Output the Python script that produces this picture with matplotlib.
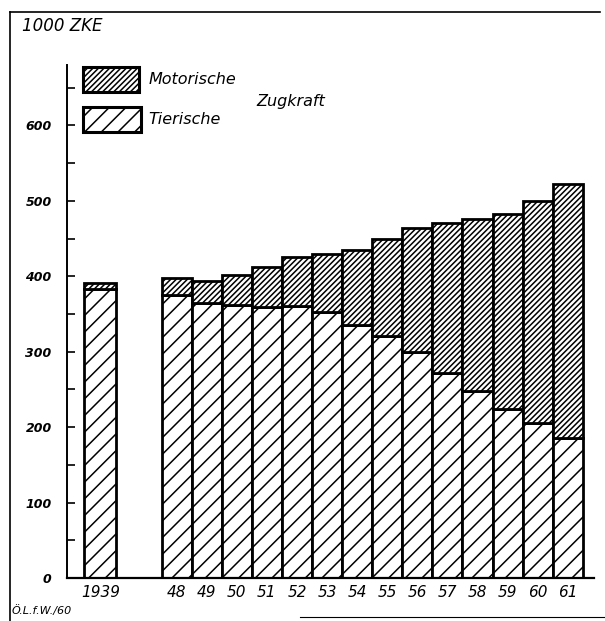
import matplotlib.pyplot as plt
from matplotlib.patches import Rectangle
from matplotlib.lines import Line2D

# Data (1000 ZKE)
jahre = ["1939", "48", "49", "50", "51", "52", "53", "54", "55", "56", "57", "58", "59", "60", "61"]
tierische = [383, 375, 365, 362, 359, 361, 353, 335, 321, 300, 272, 248, 224, 205, 185]
motorische = [8, 22, 29, 39, 53, 64, 77, 100, 129, 164, 199, 228, 259, 295, 337]

plt.rcParams["font.family"] = "DejaVu Sans"
plt.rcParams["font.style"] = "italic"
plt.rcParams["hatch.color"] = "black"
plt.rcParams["hatch.linewidth"] = 1.1

W, H = 605, 621
fig = plt.figure(figsize=(W / 100, H / 100), dpi=100)
# axes placed in pixel terms: spine at x=67, baseline at y=578, top at y=65
ax = fig.add_axes([67 / W, (H - 578) / H, (594 - 67) / W, (578 - 65) / H])

# 1939 on its own, then 1948-61 side by side
pos = [0] + [2.53 + i for i in range(len(jahre) - 1)]
breite = [1.06] + [1.0] * (len(jahre) - 1)

hatch_tier = "//"
hatch_motor = "//////"

ax.bar(pos, tierische, width=breite, color="white", edgecolor="black",
       hatch=hatch_tier, linewidth=2.0)
ax.bar(pos, motorische, bottom=tierische, width=breite, color="white",
       edgecolor="black", hatch=hatch_motor, linewidth=2.0)

ax.set_xlim(-1.11, 16.4)
ax.set_ylim(0, 680)

for s in ["top", "right"]:
    ax.spines[s].set_visible(False)
ax.spines["left"].set_linewidth(1.4)
ax.spines["bottom"].set_linewidth(1.6)

ax.set_yticks(range(0, 700, 100))
ax.set_yticks(range(50, 700, 100), minor=True)
ax.tick_params(axis="y", which="both", direction="in", length=6, width=1.2,
               labelsize=9, pad=11)
for lbl in ax.get_yticklabels():
    lbl.set_fontweight("bold")

ax.set_xticks(pos, jahre)
ax.tick_params(axis="x", length=0, labelsize=11, pad=5)

# legend boxes, drawn by hand like the original
ax.add_patch(Rectangle((0.030, 0.948), 0.107, 0.048, transform=ax.transAxes,
                       facecolor="white", edgecolor="black", hatch=hatch_motor,
                       linewidth=2.2, clip_on=False))
ax.add_patch(Rectangle((0.030, 0.870), 0.110, 0.048, transform=ax.transAxes,
                       facecolor="white", edgecolor="black", hatch=hatch_tier,
                       linewidth=2.2, clip_on=False))
ax.text(0.155, 0.972, "Motorische", transform=ax.transAxes, fontsize=11.5,
        va="center", ha="left")
ax.text(0.155, 0.893, "Tierische", transform=ax.transAxes, fontsize=11.5,
        va="center", ha="left")
ax.text(0.36, 0.928, "Zugkraft", transform=ax.transAxes, fontsize=11.5,
        va="center", ha="left")

fig.text(22 / W, 1 - 26 / H, "1000 ZKE", fontsize=12, va="center", ha="left")
fig.text(12 / W, 1 - 611 / H, "Ö.L.f.W./60", fontsize=8, va="center", ha="left")

# frame of the printed figure
fig.add_artist(Line2D([10 / W, 10 / W], [0, 1 - 12 / H], color="black", linewidth=1.2))
fig.add_artist(Line2D([10 / W, 600 / W], [1 - 12 / H, 1 - 12 / H], color="black", linewidth=1.2))
fig.add_artist(Line2D([300 / W, 1], [1 - 617 / H, 1 - 617 / H], color="black", linewidth=0.8))

fig.savefig("out.png", dpi=100)
